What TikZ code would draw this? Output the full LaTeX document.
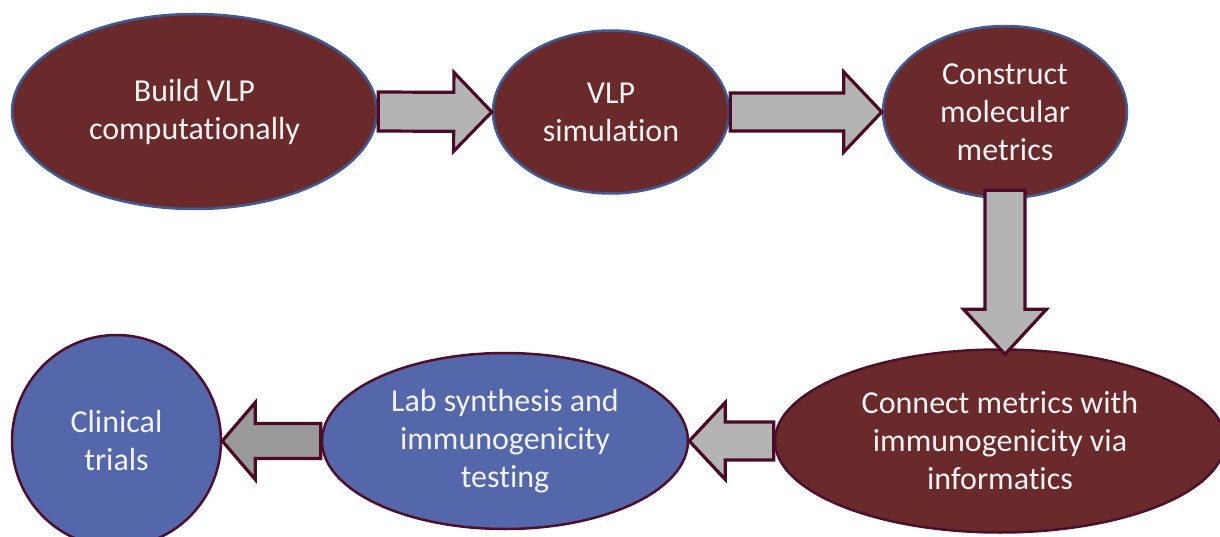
\documentclass[tikz,border=0pt]{standalone}
\usepackage{fontspec}
\setmainfont{Carlito}[Ligatures=NoCommon]
\usetikzlibrary{shapes.geometric,calc}

\definecolor{stepred}{HTML}{6A2A2C}
\definecolor{stepblue}{HTML}{5467AB}
\definecolor{rimblue}{HTML}{3F5C97}
\definecolor{rimdark}{HTML}{4D0F2B}
\definecolor{arrowrim}{HTML}{4A0A28}
\definecolor{lightgrey}{HTML}{B4B4B4}
\definecolor{darkgrey}{HTML}{9A9A9A}

\tikzset{
  stage/.style={ellipse, inner sep=0pt, line width=2.5pt, text=white!95!black,
    align=center, font=\fontsize{32}{38}\selectfont},
  redtop/.style={stage, fill=stepred, draw=rimblue},
  redlow/.style={stage, fill=stepred, draw=rimdark},
  bluelow/.style={stage, fill=stepblue, draw=rimdark},
  fatarrow/.style={draw=arrowrim, line width=3.2pt, line join=miter, fill=lightgrey},
}

% block arrow: #1 style, #2 start, #3 tip, #4 shaft half width, #5 head half width, #6 head length
\newcommand{\blockarrow}[6]{%
  \path ($(#3)!#6!(#2)$) coordinate (neckP);
  \draw[#1] ($(#2)!#4!90:(#3)$) -- ($(neckP)!#4!90:(#3)$) -- ($(neckP)!#5!90:(#3)$)
    -- (#3) -- ($(neckP)!#5!-90:(#3)$) -- ($(neckP)!#4!-90:(#3)$)
    -- ($(#2)!#4!-90:(#3)$) -- cycle;}

\begin{document}
\begin{tikzpicture}[x=1pt, y=-1pt]
\useasboundingbox (0,0) rectangle (1220,537);

\node[redtop, minimum width=365pt, minimum height=195pt] (build) at (194.5,111.5)
  {Build VLP\\computationally};
\node[redtop, minimum width=236pt, minimum height=163pt] (sim) at (611,112)
  {VLP\\simulation};
\node[redtop, minimum width=244pt, minimum height=172pt] (metric) at (1005,112)
  {Construct\\molecular\\metrics};
\node[redlow, minimum width=450pt, minimum height=183pt] (inform) at (1000,441)
  {Connect metrics with\\immunogenicity via\\informatics};
\node[bluelow, minimum width=366pt, minimum height=176pt] (lab) at (505,441)
  {Lab synthesis and\\immunogenicity\\testing};
\node[bluelow, minimum width=209pt, minimum height=212pt] (clin) at (116.5,441)
  {Clinical\\trials};

% block arrows between the stages
\path (metric.south) ++(0,-9) coordinate (s3);
\path (s3 |- inform.north) ++(0,6) coordinate (t3);

\blockarrow{fatarrow}{build.east}{sim.west}{19.5pt}{39.5pt}{38pt}
\blockarrow{fatarrow}{sim.east}{metric.west}{19pt}{40pt}{38pt}
\blockarrow{fatarrow}{s3}{t3}{20pt}{41.5pt}{45pt}
\blockarrow{fatarrow}{inform.west}{lab.east}{19pt}{38.5pt}{36pt}
\blockarrow{fatarrow, fill=darkgrey}{lab.west}{clin.east}{17.5pt}{38.5pt}{33pt}
\end{tikzpicture}
\end{document}
